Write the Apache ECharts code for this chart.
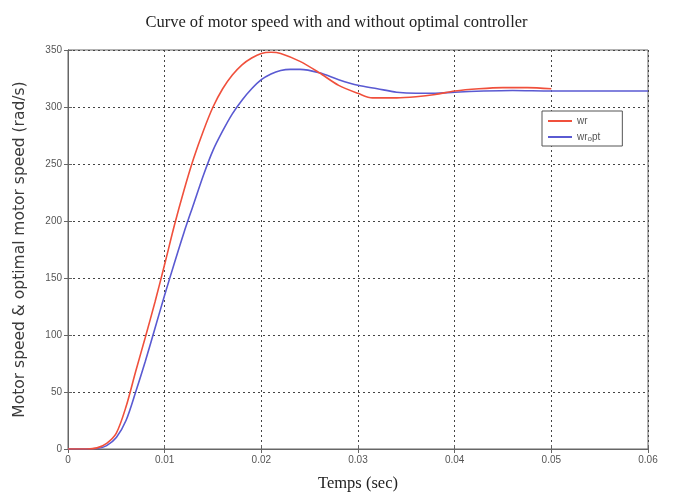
<!DOCTYPE html>
<html><head><meta charset="utf-8">
<script src="https://cdn.jsdelivr.net/npm/echarts@6/dist/echarts.min.js"></script>
<style>html,body{margin:0;padding:0;background:#fff}#c{width:673px;height:502px}</style>
</head><body><div id="c"></div>
<script>
// time (s) and speed (rad/s)
var wrT = [0, 0.002, 0.003, 0.004, 0.005, 0.006, 0.007, 0.008, 0.009, 0.010, 0.011, 0.012, 0.013, 0.014, 0.015, 0.016, 0.017, 0.018, 0.019, 0.020, 0.021, 0.022, 0.024, 0.026, 0.028, 0.030, 0.0315, 0.034, 0.036, 0.038, 0.040, 0.0425, 0.045, 0.0475, 0.050];
var wrV = [0, 0, 1, 5, 14, 37, 68, 98, 129, 162, 196, 227, 255, 279, 300, 316, 328, 337, 343, 347, 348, 347, 340, 330, 319, 312, 308, 308, 309, 311, 314, 316, 317, 317, 316];
var woptT = [0, 0.003, 0.004, 0.005, 0.006, 0.007, 0.008, 0.009, 0.010, 0.011, 0.012, 0.013, 0.014, 0.015, 0.016, 0.017, 0.018, 0.019, 0.020, 0.021, 0.022, 0.023, 0.024, 0.026, 0.028, 0.030, 0.032, 0.034, 0.036, 0.038, 0.040, 0.043, 0.046, 0.050, 0.060];
var woptV = [0, 0.5, 3, 10, 25, 50, 77, 106, 135, 163, 190, 215, 240, 262, 279, 294, 306, 316, 324, 329, 332, 333, 333, 330, 324, 319, 316, 313, 312, 312, 313, 314, 314.5, 314, 314];
var xTicks = ['0', '0.01', '0.02', '0.03', '0.04', '0.05', '0.06'];
var yTicks = ['0', '50', '100', '150', '200', '250', '300', '350'];
var seriesNames = ['wr', 'wr_opt'];
var titleText = 'Curve of motor speed with and without optimal controller';
var xName = 'Temps (sec)';
var yName = 'Motor speed & optimal motor speed (rad/s)';

function pairs(t, v) { return t.map(function (x, i) { return [x, v[i]]; }); }

var chart = echarts.init(document.getElementById('c'), null, {renderer: 'canvas'});
var lbl = {color: '#555', fontSize: 10, fontFamily: 'Liberation Sans, Arial, sans-serif'};
var grid = {type: [2, 3], color: '#444', width: 1};
chart.setOption({
  animation: false,
  backgroundColor: '#fff',
  title: {text: titleText, left: 'center', top: 9,
    textStyle: {fontFamily: 'Liberation Serif, Times New Roman, serif', fontSize: 16.5, fontWeight: 'normal', color: '#222'}},
  grid: {left: 68, right: 25, top: 50, bottom: 53, show: true, borderColor: '#666', borderWidth: 1},
  legend: {
    data: seriesNames, orient: 'vertical', left: 542, top: 111,
    itemWidth: 24, itemHeight: 2, itemGap: 4,
    backgroundColor: '#fff', borderColor: '#555', borderWidth: 1, borderRadius: 0,
    padding: [4, 22, 3, 6],
    icon: 'rect',
    formatter: function (n) { return n === 'wr_opt' ? 'wr{s|o}pt' : n; },
    textStyle: {color: '#555', fontSize: 10, lineHeight: 12, fontFamily: 'Liberation Sans, Arial, sans-serif',
      rich: {s: {fontSize: 8, lineHeight: 12, color: '#555', padding: [4, 0, 0, 0]}}}
  },
  xAxis: [{
    type: 'value', min: 0, max: 0.06, interval: 0.01,
    name: xName, nameLocation: 'middle', nameGap: 26,
    nameTextStyle: {fontFamily: 'Liberation Serif, Times New Roman, serif', fontSize: 16.5, color: '#222'},
    axisLine: {show: true, lineStyle: {color: '#666'}},
    axisTick: {show: true, inside: true, length: 4, lineStyle: {color: '#666'}},
    axisLabel: Object.assign({margin: 6, formatter: function (v) { return xTicks[Math.round(v / 0.01)]; }}, lbl),
    splitLine: {show: true, lineStyle: grid}
  }, {
    type: 'value', min: 0, max: 0.06, interval: 0.01, position: 'top',
    axisLine: {show: true, lineStyle: {color: '#666'}},
    axisTick: {show: true, inside: true, length: 4, lineStyle: {color: '#666'}},
    axisLabel: {show: false}, splitLine: {show: false}
  }],
  yAxis: [{
    type: 'value', min: 0, max: 350, interval: 50,
    name: yName, nameLocation: 'middle', nameGap: 40, nameRotate: 90,
    nameTextStyle: {fontFamily: 'DejaVu Sans, sans-serif', fontSize: 15.5, color: '#3a3a3a'},
    axisLine: {show: true, lineStyle: {color: '#666'}},
    axisTick: {show: true, inside: true, length: 4, lineStyle: {color: '#666'}},
    axisLabel: Object.assign({margin: 6, formatter: function (v) { return yTicks[Math.round(v / 50)]; }}, lbl),
    splitLine: {show: true, lineStyle: grid}
  }, {
    type: 'value', min: 0, max: 350, interval: 50, position: 'right',
    axisLine: {show: true, lineStyle: {color: '#666'}},
    axisTick: {show: true, inside: true, length: 4, lineStyle: {color: '#666'}},
    axisLabel: {show: false}, splitLine: {show: false}
  }],
  series: [
    {name: seriesNames[0], type: 'line', data: pairs(wrT, wrV), showSymbol: false, smooth: 0.3,
      lineStyle: {color: '#f0503c', width: 1.6}, itemStyle: {color: '#f0503c'}, z: 3},
    {name: seriesNames[1], type: 'line', data: pairs(woptT, woptV), showSymbol: false, smooth: 0.3,
      lineStyle: {color: '#5a5ad2', width: 1.6}, itemStyle: {color: '#5a5ad2'}, z: 2}
  ]
});
</script></body></html>
